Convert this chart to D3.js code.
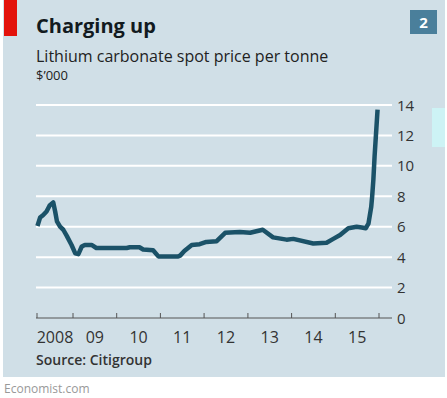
<!DOCTYPE html>
<html>
<head>
<meta charset="utf-8">
<script src="https://cdn.jsdelivr.net/npm/d3@7"></script>
<style>
  body { margin: 0; background: #fff; }
  svg { display: block; font-family: "Open Sans", "DejaVu Sans", sans-serif; }
</style>
</head>
<body>
<svg id="chart" width="447" height="398"></svg>
<script>
// Lithium carbonate spot price, $'000 per tonne
const dates = [
  "2008-03-10", "2008-04-01", "2008-04-25", "2008-05-25", "2008-06-20", "2008-07-20",
  "2008-08-05", "2008-08-20", "2008-09-15", "2008-10-12", "2008-11-10", "2008-12-20",
  "2009-01-20", "2009-02-15", "2009-03-15", "2009-04-10", "2009-06-05", "2009-07-15",
  "2010-03-25", "2010-04-20", "2010-07-10", "2010-08-10", "2010-11-01", "2010-12-15",
  "2011-05-30", "2011-06-15", "2011-07-20", "2011-08-20", "2011-09-20", "2011-11-25",
  "2012-01-20", "2012-04-15", "2012-06-25", "2012-10-25", "2013-01-20", "2013-05-05",
  "2013-07-30", "2013-11-20", "2014-01-15", "2014-07-01", "2014-10-20", "2014-12-15",
  "2015-02-10", "2015-04-20", "2015-06-28", "2015-08-10", "2015-09-12", "2015-10-05",
  "2015-10-28", "2015-11-05", "2015-11-15", "2015-11-25", "2015-12-20"
];
const prices = [
  6.05, 6.6, 6.75, 7.0, 7.4, 7.6,
  7.0, 6.35, 6.0, 5.8, 5.4, 4.8,
  4.25, 4.2, 4.7, 4.8, 4.8, 4.6,
  4.6, 4.65, 4.65, 4.5, 4.45, 4.05,
  4.05, 4.1, 4.4, 4.6, 4.8, 4.85,
  5.0, 5.05, 5.6, 5.65, 5.6, 5.8,
  5.3, 5.15, 5.2, 4.9, 4.95, 5.2,
  5.45, 5.9, 6.0, 5.95, 5.9, 6.2,
  7.3, 8.0, 9.1, 10.6, 13.7
];
const yTicks = [0, 2, 4, 6, 8, 10, 12, 14];
const yearLabels = ["2008", "09", "10", "11", "12", "13", "14", "15"];
const yearStarts = [2009, 2010, 2011, 2012, 2013, 2014, 2015, 2016];

const parse = d3.timeParse("%Y-%m-%d");
const series = dates.map((d, i) => ({ date: parse(d), value: prices[i] }));

const svg = d3.select("#chart");
const plotLeft = 36, plotRight = 392, plotTop = 105, plotBottom = 318;

// panel
svg.append("rect").attr("x", 3).attr("y", 0).attr("width", 442).attr("height", 377).attr("fill", "#d0dfe7");
svg.append("rect").attr("x", 432).attr("y", 108).attr("width", 13).attr("height", 39).attr("fill", "#cdf3f5");
svg.append("rect").attr("x", 4).attr("y", 0).attr("width", 13).attr("height", 36).attr("fill", "#e3120b");

// titles
svg.append("text").attr("x", 36).attr("y", 33).attr("font-size", 20).attr("font-weight", "bold")
  .attr("fill", "#121a20").text("Charging up");
svg.append("text").attr("x", 36).attr("y", 62).attr("font-size", 16).attr("fill", "#222")
  .text("Lithium carbonate spot price per tonne");
svg.append("text").attr("x", 36).attr("y", 80).attr("font-size", 13).attr("fill", "#222").text("$\u2019000");

// badge
svg.append("rect").attr("x", 410).attr("y", 10).attr("width", 27).attr("height", 24).attr("fill", "#4a7f9b");
svg.append("text").attr("x", 423.5).attr("y", 28).attr("text-anchor", "middle").attr("font-size", 15)
  .attr("font-weight", "bold").attr("fill", "#fff").text("2");

// scales
const x = d3.scaleTime()
  .domain([new Date(2009, 0, 1), new Date(2016, 0, 1)])
  .range([73, 379]);
const y = d3.scaleLinear().domain([0, 14]).range([plotBottom, plotTop]);

// gridlines
svg.append("g").selectAll("line")
  .data(yTicks.filter(d => d > 0))
  .join("line")
  .attr("x1", plotLeft).attr("x2", plotRight)
  .attr("y1", d => y(d)).attr("y2", d => y(d))
  .attr("stroke", "#fff").attr("stroke-width", 2);

// y labels
svg.append("g").selectAll("text")
  .data(yTicks)
  .join("text")
  .attr("x", 397).attr("y", d => y(d) + 5.5)
  .attr("font-size", 15).attr("fill", "#333")
  .text(d => d);

// x axis baseline and ticks
svg.append("line").attr("x1", plotLeft).attr("x2", plotRight).attr("y1", plotBottom).attr("y2", plotBottom)
  .attr("stroke", "#555").attr("stroke-width", 1);
const tickX = [plotLeft + 1].concat(yearStarts.map(yr => x(new Date(yr, 0, 1))));
svg.append("g").selectAll("line")
  .data(tickX)
  .join("line")
  .attr("x1", d => d).attr("x2", d => d)
  .attr("y1", plotBottom).attr("y2", plotBottom - 5)
  .attr("stroke", "#555").attr("stroke-width", 1);

// year labels centred between ticks
svg.append("g").selectAll("text")
  .data(yearLabels)
  .join("text")
  .attr("x", (d, i) => (tickX[i] + tickX[i + 1]) / 2)
  .attr("y", 343)
  .attr("text-anchor", "middle")
  .attr("font-size", 16).attr("fill", "#333")
  .text(d => d);

// price line
const line = d3.line().x(d => x(d.date)).y(d => y(d.value)).curve(d3.curveLinear);
svg.append("path").datum(series)
  .attr("d", line)
  .attr("fill", "none")
  .attr("stroke", "#1b5268")
  .attr("stroke-width", 4.5)
  .attr("stroke-linejoin", "round");

// footer
svg.append("text").attr("x", 36).attr("y", 365).attr("font-size", 14).attr("font-weight", 600)
  .attr("fill", "#333").text("Source: Citigroup");
svg.append("text").attr("x", 4).attr("y", 393).attr("font-size", 12).attr("fill", "#999")
  .text("Economist.com");
</script>
</body>
</html>
